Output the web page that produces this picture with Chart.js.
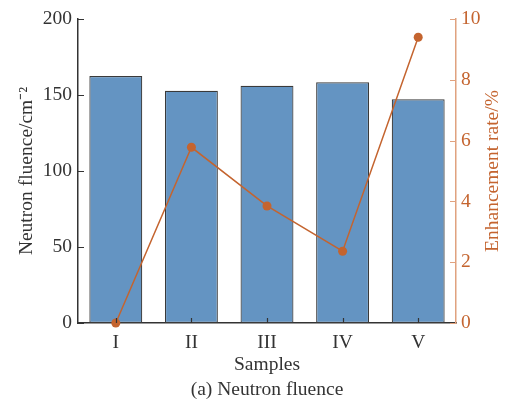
<!DOCTYPE html>
<html>
<head>
<meta charset="utf-8">
<script src="https://cdn.jsdelivr.net/npm/chart.js@4"></script>
<style>
html,body{margin:0;padding:0;background:#fff;}
canvas{display:block;}
</style>
</head>
<body>
<canvas id="c" width="508" height="404"></canvas>
<script>
// data
const samples = ['I','II','III','IV','V'];
const fluence = [162.5, 152.8, 156.1, 158.4, 147.2];
const enhancement = [0, 5.78, 3.85, 2.36, 9.4];
const fluenceTicks = [0, 50, 100, 150, 200];
const rateTicks = [0, 2, 4, 6, 8, 10];

const FONT = 'Liberation Serif';
const DARK = '#333333';
const ORANGE = '#c4642f';
const ORANGE_AXIS = '#e0a27f';

// inward tick marks + right title + caption
const extras = {
id:'extras',
afterDraw(chart){
let ctx = chart.ctx;
let a = chart.chartArea;
let x = chart.scales.x, y = chart.scales.y, y2 = chart.scales.y2;
ctx.save();
ctx.lineWidth = 1.2;
ctx.strokeStyle = DARK;
ctx.beginPath();
y.ticks.forEach(function(t){
let py = Math.round(y.getPixelForValue(t.value)) + 0.5;
ctx.moveTo(a.left, py); ctx.lineTo(a.left + 6, py);
});
x.ticks.forEach(function(t, i){
let px = Math.round(x.getPixelForTick(i)) + 0.5;
ctx.moveTo(px, a.bottom); ctx.lineTo(px, a.bottom - 5);
});
ctx.stroke();
ctx.strokeStyle = ORANGE_AXIS;
ctx.beginPath();
y2.ticks.forEach(function(t){
let py = Math.round(y2.getPixelForValue(t.value)) + 0.5;
ctx.moveTo(a.right, py); ctx.lineTo(a.right - 6, py);
});
ctx.stroke();

ctx.font = '19.5px "' + FONT + '"';
ctx.textAlign = 'center';
ctx.textBaseline = 'middle';
ctx.fillStyle = ORANGE;
ctx.translate(493, (a.top + a.bottom) / 2);
ctx.rotate(-Math.PI / 2);
ctx.fillText('Enhancement rate/%', 0, 0);
ctx.restore();

ctx.save();
ctx.font = '19.5px "' + FONT + '"';
ctx.textAlign = 'center';
ctx.textBaseline = 'middle';
ctx.fillStyle = DARK;
ctx.fillText('(a) Neutron fluence', (a.left + a.right) / 2, 390);
ctx.restore();
}
};

new Chart(document.getElementById('c').getContext('2d'),{
data:{
labels:samples,
datasets:[
{
type:'line',
data:enhancement,
yAxisID:'y2',
borderColor:ORANGE,
backgroundColor:ORANGE,
borderWidth:1.5,
pointRadius:4.5,
pointBorderWidth:0,
tension:0,
clip:false,
order:0
},
{
type:'bar',
data:fluence,
yAxisID:'y',
backgroundColor:'#6494c2',
borderColor:'#3a3a3a',
borderWidth:1.2,
borderSkipped:false,
categoryPercentage:1,
barPercentage:0.7,
order:1
}
]
},
options:{
responsive:false,
animation:false,
events:[],
layout:{padding:{top:19,left:0,right:0,bottom:0}},
plugins:{legend:{display:false},tooltip:{enabled:false},title:{display:false}},
scales:{
x:{
type:'category',
offset:true,
grid:{display:false,drawTicks:false},
border:{display:true,color:DARK,width:1.5},
ticks:{color:DARK,padding:8,font:{family:FONT,size:19.5}},
title:{display:true,text:'Samples',color:DARK,font:{family:FONT,size:19.5},padding:{top:0,bottom:27}},
afterFit(s){ s.height = 81; }
},
y:{
position:'left',
min:0,max:200,
afterBuildTicks(s){ s.ticks = fluenceTicks.map(function(v){ return {value:v}; }); },
grid:{display:false,drawTicks:false},
border:{display:true,color:DARK,width:1.5},
ticks:{color:DARK,padding:6,font:{family:FONT,size:19.5}},
title:{display:true,text:'Neutron fluence/cm\u207B\u00B2',color:DARK,font:{family:FONT,size:19.5},padding:{top:15,bottom:0}},
afterFit(s){ s.width = 78; }
},
y2:{
position:'right',
min:0,max:10,
afterBuildTicks(s){ s.ticks = rateTicks.map(function(v){ return {value:v}; }); },
grid:{display:false,drawTicks:false},
border:{display:true,color:ORANGE_AXIS,width:1.5},
ticks:{color:ORANGE,padding:5,font:{family:FONT,size:19.5}},
afterFit(s){ s.width = 52; }
}
}
},
plugins:[extras]
});
</script>
</body>
</html>
